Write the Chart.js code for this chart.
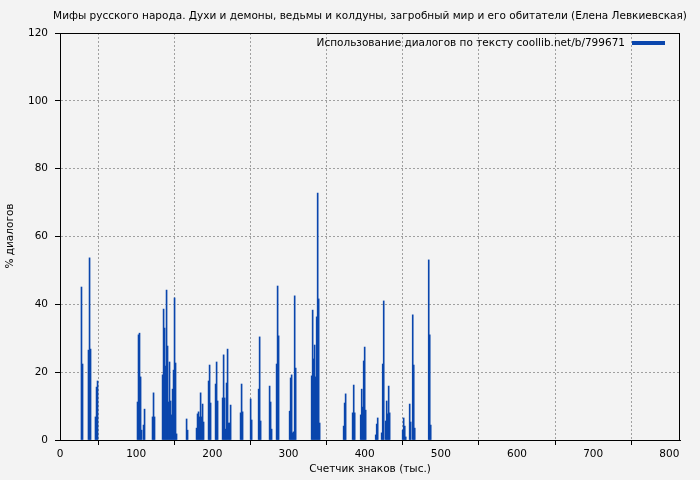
<!DOCTYPE html>
<html>
<head>
<meta charset="utf-8">
<script src="https://cdn.jsdelivr.net/npm/chart.js@4/dist/chart.umd.min.js"></script>
<style>
    html, body { margin: 0; padding: 0; background: #f3f3f3; }
    #dialogChart { display: block; }
</style>
</head>
<body>
<canvas id="dialogChart" width="700" height="480"></canvas>
<script>
// Text position, thousands of characters
const charCounts = [
    28.2, 29.6, 37.4, 38.8, 40.1, 46.6, 48.0, 49.3,
    101.8, 103.1, 104.4, 105.8, 107.1, 109.7, 111.0, 121.5, 122.8, 124.1,
    134.7, 136.0, 137.3, 138.6, 139.9, 141.2, 142.5, 143.8, 145.2, 146.5, 147.8, 149.1, 150.4, 151.7, 153.0,
    166.2, 167.5, 179.3, 180.6, 181.9, 183.3, 184.6, 185.9, 187.2, 188.5,
    195.1, 196.4, 197.7, 204.3, 205.6, 206.9,
    213.5, 214.8, 216.1, 217.4, 218.7, 220.0, 221.4, 222.7, 224.0,
    237.1, 238.4, 239.7, 250.3, 251.6, 260.8, 262.1, 263.4,
    275.2, 276.5, 277.8, 284.4, 285.7, 287.0,
    301.5, 302.8, 304.1, 305.4, 306.7, 308.1, 309.4,
    330.4, 331.7, 333.0, 334.3, 335.6, 337.0, 338.3, 339.6, 340.9,
    372.4, 373.7, 375.0, 384.2, 385.6, 386.9,
    394.8, 396.1, 397.4, 398.7, 400.0, 401.3,
    414.5, 415.8, 417.1, 422.3, 423.7, 425.0, 427.6, 428.9, 430.2, 431.5, 432.8,
    449.9, 451.2, 452.6, 453.9, 459.1, 460.4, 463.1, 464.4, 465.7,
    484.1, 485.4, 486.7
];

// Share of dialogue in each block, percent
const dialogShare = [
    45.1, 22.4, 26.5, 53.7, 26.8, 6.8, 15.6, 17.4,
    11.2, 31.0, 31.5, 18.6, 2.9, 4.4, 9.1, 6.8, 13.9, 6.8,
    19.2, 38.6, 33.0, 21.8, 44.2, 27.7, 11.2, 23.0, 11.5, 7.4, 15.0, 20.6, 41.9, 22.7, 1.8,
    6.2, 2.9, 3.5, 7.7, 8.3, 6.8, 13.9, 6.8, 10.6, 5.3,
    17.4, 22.1, 10.9, 16.5, 23.0, 11.5,
    12.4, 25.1, 12.4, 3.2, 16.8, 26.8, 5.0, 5.0, 10.3,
    8.0, 16.5, 8.3, 12.1, 5.9, 15.0, 30.4, 5.6,
    15.9, 11.2, 3.2, 22.4, 45.4, 30.7,
    8.5, 18.3, 19.2, 2.1, 2.4, 42.5, 21.2,
    18.9, 38.3, 23.9, 28.0, 18.6, 36.3, 72.8, 41.6, 5.0,
    4.1, 10.9, 13.6, 8.0, 16.2, 8.0,
    7.4, 15.0, 9.7, 23.3, 27.4, 8.8,
    1.5, 4.7, 6.5, 2.1, 22.4, 41.0, 5.6, 11.5, 7.7, 15.9, 8.0,
    2.9, 6.5, 4.1, 0.9, 10.6, 5.3, 36.9, 22.1, 3.5,
    53.1, 31.0, 4.4
];

const xTicks = [0, 100, 200, 300, 400, 500, 600, 700, 800];
const yTicks = [0, 20, 40, 60, 80, 100, 120];

const chartTitle = 'Мифы русского народа. Духи и демоны, ведьмы и колдуны, загробный мир и его обитатели (Елена Левкиевская)';
const seriesLabel = 'Использование диалогов по тексту coollib.net/b/799671';
const xTitle = 'Счетчик знаков (тыс.)';
const yTitle = '% диалогов';

const barColor = '#0a46ad';
const fontSize = 10.5;
const textFont = fontSize + 'px "DejaVu Sans"';

// Page background, plot frame and the texts gnuplot-style
const framePlugin = {
    id: 'frame',
    beforeDraw(chart) {
        const ctx = chart.ctx;
        ctx.save();
        ctx.fillStyle = '#f3f3f3';
        ctx.fillRect(0, 0, chart.width, chart.height);
        ctx.restore();
    },
    afterDraw(chart) {
        const ctx = chart.ctx;
        const area = chart.chartArea;
        ctx.save();
        ctx.strokeStyle = '#000';
        ctx.lineWidth = 1;
        ctx.strokeRect(area.left + 0.5, area.top + 0.5, area.right - area.left - 1, area.bottom - area.top);

        ctx.fillStyle = '#000';
        ctx.font = textFont;
        ctx.textBaseline = 'middle';

        ctx.textAlign = 'center';
        ctx.fillText(chartTitle, 370, 16);
        ctx.fillText(xTitle, 370, 469);

        // legend
        ctx.textAlign = 'right';
        ctx.fillText(seriesLabel, 625, 43);
        ctx.fillStyle = barColor;
        ctx.fillRect(632, 41, 33, 4);

        ctx.fillStyle = '#000';
        ctx.translate(10, 236);
        ctx.rotate(-Math.PI / 2);
        ctx.textAlign = 'center';
        ctx.fillText(yTitle, 0, 0);
        ctx.restore();
    }
};

const points = charCounts.map((x, i) => ({ x: x, y: dialogShare[i] }));

const ctx = document.getElementById('dialogChart').getContext('2d');
const dialogChart = new Chart(ctx, {
    type: 'bar',
    data: {
        datasets: [{
            label: seriesLabel,
            data: points,
            backgroundColor: barColor,
            borderWidth: 0,
            barThickness: 1
        }]
    },
    options: {
        responsive: false,
        animation: false,
        devicePixelRatio: 1,
        layout: { padding: { left: 0, right: 20, top: 33, bottom: 0 } },
        plugins: {
            legend: { display: false },
            title: { display: false },
            tooltip: { enabled: false }
        },
        scales: {
            x: {
                type: 'linear',
                min: 0,
                max: 814,
                offset: false,
                afterFit: function(scale) { scale.height = 40; },
                afterBuildTicks: function(scale) { scale.ticks = xTicks.map(v => ({ value: v })); },
                ticks: {
                    color: '#000',
                    font: { family: 'DejaVu Sans', size: fontSize },
                    padding: 3,
                    maxRotation: 0,
                    autoSkip: false
                },
                grid: {
                    color: '#a0a0a0',
                    tickColor: '#000',
                    tickLength: 5
                },
                border: { color: '#000', dash: [2, 2] }
            },
            y: {
                min: 0,
                max: 120,
                afterFit: function(scale) { scale.width = 60; },
                afterBuildTicks: function(scale) { scale.ticks = yTicks.map(v => ({ value: v })); },
                ticks: {
                    color: '#000',
                    font: { family: 'DejaVu Sans', size: fontSize },
                    padding: 7
                },
                grid: {
                    color: '#a0a0a0',
                    tickColor: '#000',
                    tickLength: 5
                },
                border: { color: '#000', dash: [2, 2] }
            }
        }
    },
    plugins: [framePlugin]
});
</script>
</body>
</html>
